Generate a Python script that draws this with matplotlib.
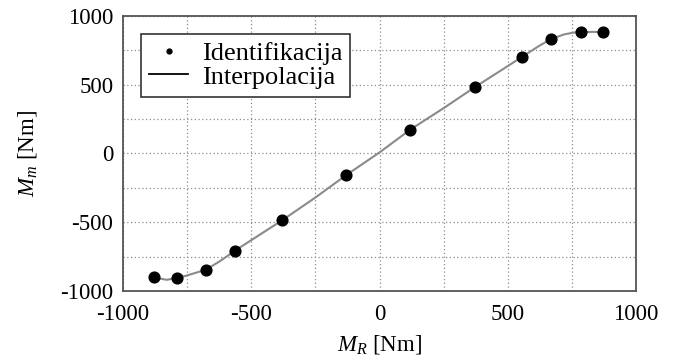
import matplotlib.pyplot as plt
from matplotlib.ticker import MultipleLocator
from matplotlib.lines import Line2D

plt.rcParams["font.family"] = ["Liberation Serif", "DejaVu Serif"]
plt.rcParams["mathtext.fontset"] = "custom"
plt.rcParams["mathtext.rm"] = "Liberation Serif"
plt.rcParams["mathtext.it"] = "Liberation Serif:italic"
plt.rcParams["axes.unicode_minus"] = False

# identifikacija (tocke)
mr_id = [-880, -789, -677, -565, -380, -130, 120, 372, 556, 669, 784, 871]
mm_id = [-901, -906, -845, -708, -486, -157, 174, 483, 703, 833, 882, 882]

# interpolacija (ocitano sa slike)
mr_int = [-867, -830, -790, -755, -677, -620, -565, -500, -380, -250, -130, 0,
          120, 250, 372, 470, 556, 620, 669, 720, 760, 784, 830, 871]
mm_int = [-906, -918, -906, -889, -845, -780, -708, -630, -486, -320, -157, 8,
          174, 330, 483, 600, 703, 780, 833, 866, 880, 882, 884, 883]

fig = plt.figure(figsize=(6.76, 3.62), dpi=100)
ax = fig.add_axes([0.182, 0.196, 0.759, 0.760])

ax.plot(mr_int, mm_int, color="#8a8a8a", lw=1.5, zorder=2)
ax.scatter(mr_id, mm_id, s=60, color="black", zorder=3)

ax.set_xlim(-1000, 1000)
ax.set_ylim(-1000, 1000)
ax.xaxis.set_major_locator(MultipleLocator(500))
ax.yaxis.set_major_locator(MultipleLocator(500))
ax.xaxis.set_minor_locator(MultipleLocator(250))
ax.yaxis.set_minor_locator(MultipleLocator(250))
ax.grid(which="both", ls=(0, (1, 2)), color="#8c8c8c", lw=0.9)
ax.tick_params(which="both", length=0, labelsize=16.5)
ax.tick_params(axis="x", pad=9)
ax.tick_params(axis="y", pad=7)

for s in ax.spines.values():
    s.set_color("#555555")
    s.set_linewidth(1.3)

ax.set_xlabel("$M_R$ [Nm]", fontsize=16.5, labelpad=6)
ax.set_ylabel("$M_m$ [Nm]", fontsize=16.5, labelpad=15)

handles = [Line2D([], [], marker="o", ls="none", color="black", ms=3.5),
           Line2D([], [], color="black", lw=1.3)]
leg = ax.legend(handles, ["Identifikacija", "Interpolacija"], loc="upper left",
                bbox_to_anchor=(0.035, 0.935), fontsize=19, fancybox=False,
                framealpha=1, edgecolor="#333333", borderpad=0.3, labelspacing=0.0,
                handlelength=1.5, handletextpad=0.5, borderaxespad=0)
leg.get_frame().set_linewidth(1.2)

fig.savefig("out.png", dpi=100)
